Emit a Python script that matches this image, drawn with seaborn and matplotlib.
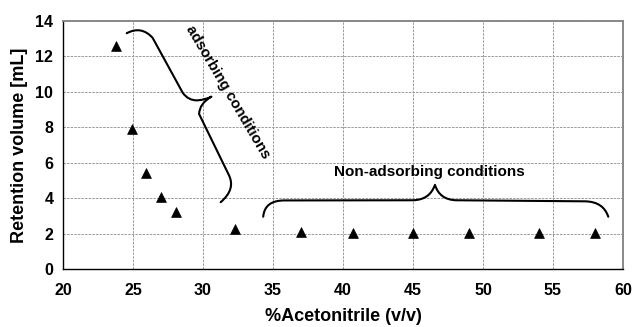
import matplotlib
matplotlib.use("Agg")
import matplotlib.pyplot as plt
import seaborn as sns
import pandas as pd
from matplotlib.path import Path
from matplotlib.patches import PathPatch

acetonitrile = [23.8, 24.9, 25.9, 27.0, 28.1, 32.3, 37.0, 40.7, 45.0, 49.0, 54.0, 58.0]
retention = [12.6, 7.9, 5.4, 4.05, 3.2, 2.25, 2.07, 2.02, 2.02, 2.02, 2.02, 2.02]

xticks = [20, 25, 30, 35, 40, 45, 50, 55, 60]
yticks = [0, 2, 4, 6, 8, 10, 12, 14]

sns.set_style("white")
plt.rcParams['font.family'] = ['Liberation Sans', 'DejaVu Sans']
plt.rcParams['font.weight'] = 'bold'
plt.rcParams['xtick.labelsize'] = 11.5
plt.rcParams['ytick.labelsize'] = 11.5
for k in ['text.color', 'axes.labelcolor', 'xtick.color', 'ytick.color']:
    plt.rcParams[k] = 'black'

fig = plt.figure(figsize=(6.34, 3.27), dpi=100)
ax = fig.add_axes([0.0994, 0.1774, 0.8832, 0.7584])

df = pd.DataFrame({"x": acetonitrile, "y": retention})
sns.scatterplot(data=df, x="x", y="y", marker="^", s=50, color="black",
                edgecolor="black", linewidth=0.5, ax=ax, zorder=3)

ax.set_xlim(20, 60)
ax.set_ylim(0, 14)
ax.set_xticks(xticks)
ax.set_yticks(yticks)
ax.set_xticklabels([str(t) for t in xticks], fontsize=11.5, fontweight="bold", color="black")
ax.set_yticklabels([str(t) for t in yticks], fontsize=11.5, fontweight="bold", color="black")
ax.grid(True, color="#9a9a9a", linestyle=(0, (2.5, 1.2)), linewidth=0.7)
for s in ["left", "bottom"]:
    ax.spines[s].set_color("black")
    ax.spines[s].set_linewidth(1.0)
for s in ["top", "right"]:
    ax.spines[s].set_color("#888888")
    ax.spines[s].set_linewidth(1.4)
ax.tick_params(axis="both", direction="out", length=4, width=0.8, color="black")
ax.tick_params(axis="x", pad=6)
ax.tick_params(axis="y", pad=3)
ax.set_xlabel("%Acetonitrile (v/v)", fontsize=13, fontweight="bold", labelpad=7, color="black")
ax.set_ylabel("Retention volume [mL]", fontsize=13, fontweight="bold", labelpad=5, color="black")

M, C, L = Path.MOVETO, Path.CURVE3, Path.LINETO
# adsorbing brace
v1 = [(24.55, 13.31), (25.6, 13.75), (26.4, 13.05), (28.55, 9.95),
      (28.95, 9.5), (29.6, 9.52), (30.2, 9.55), (30.6, 9.73),
      (29.75, 9.35), (29.72, 8.75), (31.85, 5.3), (32.35, 4.5), (31.26, 3.77)]
c1 = [M, C, C, L, C, C, C, C, C, C, L, C, C]
ax.add_patch(PathPatch(Path(v1, c1), fill=False, edgecolor="black", linewidth=1.5,
                       capstyle="round", joinstyle="round", zorder=4))
# non-adsorbing brace
v2 = [(34.3, 2.95), (34.4, 3.87), (35.8, 3.87), (45.0, 3.88),
      (46.2, 3.9), (46.57, 4.75), (46.9, 3.9), (48.1, 3.88),
      (57.3, 3.82), (58.6, 3.8), (58.95, 2.95)]
c2 = [M, C, C, L, C, C, C, C, L, C, C]
ax.add_patch(PathPatch(Path(v2, c2), fill=False, edgecolor="black", linewidth=1.5,
                       capstyle="round", joinstyle="round", zorder=4))

ax.text(31.8, 9.97, "adsorbing conditions", rotation=-59.4, rotation_mode="anchor",
        ha="center", va="center", fontsize=10.8, fontweight="bold", color="black")
ax.text(46.2, 5.45, "Non-adsorbing conditions", ha="center", va="center",
        fontsize=11, fontweight="bold", color="black")

fig.savefig("out.png", dpi=100)
